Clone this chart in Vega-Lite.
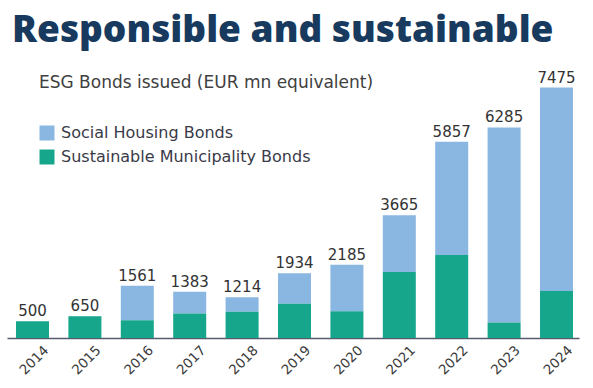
{
  "$schema": "https://vega.github.io/schema/vega-lite/v6.json",
  "width": 572,
  "height": 260,
  "autosize": "none",
  "padding": {"left": 7, "top": 78, "right": 14, "bottom": 50},
  "background": "white",
  "title": {
    "text": "Responsible and sustainable",
    "anchor": "start",
    "frame": "group",
    "font": "Open Sans",
    "fontWeight": 800,
    "fontSize": 37,
    "color": "#173A5E",
    "baseline": "alphabetic",
    "offset": 35,
    "dx": 5,
    "dy": 43
  },
  "data": {
    "values": [
      {"year": "2014", "type": "Social Housing Bonds", "value": 0},
      {"year": "2014", "type": "Sustainable Municipality Bonds", "value": 500},
      {"year": "2015", "type": "Social Housing Bonds", "value": 0},
      {"year": "2015", "type": "Sustainable Municipality Bonds", "value": 650},
      {"year": "2016", "type": "Social Housing Bonds", "value": 1031},
      {"year": "2016", "type": "Sustainable Municipality Bonds", "value": 530},
      {"year": "2017", "type": "Social Housing Bonds", "value": 648},
      {"year": "2017", "type": "Sustainable Municipality Bonds", "value": 735},
      {"year": "2018", "type": "Social Housing Bonds", "value": 434},
      {"year": "2018", "type": "Sustainable Municipality Bonds", "value": 780},
      {"year": "2019", "type": "Social Housing Bonds", "value": 912},
      {"year": "2019", "type": "Sustainable Municipality Bonds", "value": 1022},
      {"year": "2020", "type": "Social Housing Bonds", "value": 1388},
      {"year": "2020", "type": "Sustainable Municipality Bonds", "value": 797},
      {"year": "2021", "type": "Social Housing Bonds", "value": 1693},
      {"year": "2021", "type": "Sustainable Municipality Bonds", "value": 1972},
      {"year": "2022", "type": "Social Housing Bonds", "value": 3380},
      {"year": "2022", "type": "Sustainable Municipality Bonds", "value": 2477},
      {"year": "2023", "type": "Social Housing Bonds", "value": 5824},
      {"year": "2023", "type": "Sustainable Municipality Bonds", "value": 461},
      {"year": "2024", "type": "Social Housing Bonds", "value": 6070},
      {"year": "2024", "type": "Sustainable Municipality Bonds", "value": 1405}
    ]
  },
  "encoding": {
    "x": {
      "field": "year",
      "type": "ordinal",
      "scale": {"paddingInner": 0.37, "paddingOuter": 0.143, "align": 0.6},
      "axis": {
        "title": null,
        "labelAngle": -45,
        "labelFont": "DejaVu Sans",
        "labelFontSize": 13.5,
        "labelColor": "#3b3b3b",
        "labelPadding": 5,
        "labelOffset": 9,
        "ticks": false,
        "domainColor": "#565b6e",
        "domainWidth": 1.5,
        "grid": false
      }
    }
  },
  "layer": [
    {
      "mark": {"type": "bar"},
      "encoding": {
        "y": {
          "field": "value",
          "type": "quantitative",
          "stack": "zero",
          "scale": {"domain": [0, 7761], "nice": false},
          "axis": null
        },
        "color": {
          "field": "type",
          "type": "nominal",
          "scale": {
            "domain": ["Social Housing Bonds", "Sustainable Municipality Bonds"],
            "range": ["#89B7E2", "#16A68B"]
          },
          "legend": {
            "orient": "none",
            "legendX": 32,
            "legendY": -3,
            "padding": 0,
            "title": "ESG Bonds issued (EUR mn equivalent)",
            "titleFont": "DejaVu Sans",
            "titleFontSize": 17,
            "titleFontWeight": "normal",
            "titleColor": "#404040",
            "titlePadding": 33,
            "titleLimit": 500,
            "labelFont": "DejaVu Sans",
            "labelFontSize": 16,
            "labelColor": "#3a3a48",
            "labelOffset": 6,
            "labelLimit": 400,
            "symbolType": "square",
            "symbolSize": 225,
            "symbolStrokeWidth": 0,
            "rowPadding": 8
          }
        },
        "order": {"field": "type", "sort": "descending"}
      }
    },
    {
      "mark": {
        "type": "text",
        "baseline": "alphabetic",
        "dy": -5,
        "font": "DejaVu Sans",
        "fontSize": 15,
        "color": "#333333"
      },
      "encoding": {
        "y": {"aggregate": "sum", "field": "value", "type": "quantitative"},
        "text": {"aggregate": "sum", "field": "value", "type": "quantitative", "format": "d"}
      }
    }
  ],
  "config": {"view": {"stroke": null}}
}
